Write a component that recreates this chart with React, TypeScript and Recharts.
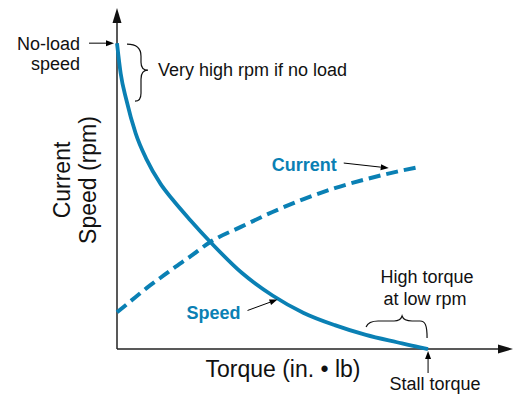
import { LineChart, Line, XAxis, YAxis, ReferenceDot, ReferenceLine } from 'recharts'

// torque as % of stall torque, speed and current as % of no-load speed scale
const torque = [0, 1.2, 3, 6, 9.5, 14, 18, 23.5, 30, 40, 50, 60, 70, 80, 90, 97, 100]
const speed = [100, 90, 81.5, 70.5, 62, 54, 48.7, 42.2, 35, 25, 17.5, 11.8, 7.8, 4.6, 2.2, 0.6, 0]
const current = [12, 13, 14.5, 17, 19.9, 23.3, 26.3, 30.2, 35, 40, 44.8, 49, 52.6, 55.5, 58, 59.5, null]

const xTitle = 'Torque (in. \u2022 lb)'
const yTitle = ['Current', 'Speed (rpm)']
const noLoadText = ['No-load', 'speed']
const highRpmText = 'Very high rpm if no load'
const highTorqueText = ['High torque', 'at low rpm']
const stallText = 'Stall torque'

const X_MAX = 127.3
const Y_MAX = 111.5

const data = torque.map((t, i) => ({ torque: t, speed: speed[i], current: current[i] }))

const BLUE = '#0a80b4'
const FONT = '"Liberation Sans", Arial, Helvetica, sans-serif'

function arrow(x1: number, y1: number, x2: number, y2: number) {
  const a = Math.atan2(y2 - y1, x2 - x1)
  const L = 8
  const W = 3
  const bx = x2 - L * Math.cos(a)
  const by = y2 - L * Math.sin(a)
  const pts = `${x2},${y2} ${bx - W * Math.sin(a)},${by + W * Math.cos(a)} ${bx + W * Math.sin(a)},${by - W * Math.cos(a)}`
  return (
    <g>
      <line x1={x1} y1={y1} x2={bx} y2={by} stroke="#000" strokeWidth={1} />
      <polygon points={pts} fill="#000" />
    </g>
  )
}

const txt = { fontFamily: FONT, fontSize: 18, fill: '#111' }

export default function App() {
  return (
    <div style={{ position: 'absolute', left: 0, top: 0, background: '#fff' }}>
      <LineChart width={520} height={395} data={data} margin={{ top: 8, right: 7, left: 117, bottom: 46 }}>
        <XAxis dataKey="torque" type="number" domain={[0, X_MAX]} hide />
        <YAxis type="number" domain={[0, Y_MAX]} hide />

        {/* axes */}
        <ReferenceLine segment={[{ x: 0, y: 0 }, { x: X_MAX - 3, y: 0 }]} stroke="#222" strokeWidth={1.5} />
        <ReferenceLine segment={[{ x: 0, y: 0 }, { x: 0, y: Y_MAX - 3 }]} stroke="#222" strokeWidth={1.5} />

        <Line type="monotone" dataKey="current" stroke={BLUE} strokeWidth={4} strokeDasharray="12 6" dot={false} isAnimationActive={false} />
        <Line type="monotone" dataKey="speed" stroke={BLUE} strokeWidth={3.8} dot={false} isAnimationActive={false} />

        {/* axis arrowheads */}
        <ReferenceDot
          x={X_MAX}
          y={0}
          shape={(p: any) => <polygon points={`${p.cx},${p.cy} ${p.cx - 15},${p.cy - 4.5} ${p.cx - 15},${p.cy + 4.5}`} fill="#111" />}
        />
        <ReferenceDot
          x={0}
          y={Y_MAX}
          shape={(p: any) => <polygon points={`${p.cx},${p.cy} ${p.cx - 4.5},${p.cy + 15} ${p.cx + 4.5},${p.cy + 15}`} fill="#111" />}
        />

        {/* axis titles */}
        <ReferenceDot
          x={0}
          y={0}
          shape={(p: any) => {
            const cy = p.cy - 169
            return (
              <g>
                <text x={p.cx + 166} y={p.cy + 28} textAnchor="middle" style={{ ...txt, fontSize: 23 }}>{xTitle}</text>
                <text x={70} y={cy} transform={`rotate(-90, 70, ${cy})`} textAnchor="middle" style={{ ...txt, fontSize: 23 }}>
                  {yTitle[0]}
                </text>
                <text x={96} y={cy} transform={`rotate(-90, 96, ${cy})`} textAnchor="middle" style={{ ...txt, fontSize: 23 }}>
                  {yTitle[1]}
                </text>
              </g>
            )
          }}
        />

        {/* no-load speed */}
        <ReferenceDot
          x={0}
          y={speed[0]}
          shape={(p: any) => (
            <g>
              <text x={p.cx - 37} y={p.cy + 7} textAnchor="end" style={txt}>{noLoadText[0]}</text>
              <text x={p.cx - 37} y={p.cy + 27} textAnchor="end" style={txt}>{noLoadText[1]}</text>
              {arrow(p.cx - 28, p.cy, p.cx - 3, p.cy)}
              <path
                d={`M${p.cx + 10},${p.cy + 1} C${p.cx + 20},${p.cy + 1} ${p.cx + 24},${p.cy + 6} ${p.cx + 24},${p.cy + 13} L${p.cx + 24},${p.cy + 19} C${p.cx + 24},${p.cy + 24} ${p.cx + 26},${p.cy + 27} ${p.cx + 31},${p.cy + 27} C${p.cx + 26},${p.cy + 27} ${p.cx + 24},${p.cy + 30} ${p.cx + 24},${p.cy + 36} L${p.cx + 24},${p.cy + 50} C${p.cx + 24},${p.cy + 55} ${p.cx + 22},${p.cy + 58} ${p.cx + 18},${p.cy + 58}`}
                fill="none"
                stroke="#111"
                strokeWidth={1.2}
              />
              <text x={p.cx + 41} y={p.cy + 33} style={txt}>{highRpmText}</text>
            </g>
          )}
        />

        {/* current label */}
        <ReferenceDot
          x={97}
          y={59.5}
          shape={(p: any) => (
            <g>
              <text x={p.cx - 82} y={p.cy + 4} textAnchor="end" style={{ ...txt, fill: BLUE, fontWeight: 700 }}>Current</text>
              {arrow(p.cx - 75, p.cy - 4, p.cx - 30, p.cy + 1)}
            </g>
          )}
        />

        {/* speed label */}
        <ReferenceDot
          x={50}
          y={17.5}
          shape={(p: any) => (
            <g>
              <text x={p.cx - 32} y={p.cy + 24} textAnchor="end" style={{ ...txt, fill: BLUE, fontWeight: 700 }}>Speed</text>
              {arrow(p.cx - 25, p.cy + 15, p.cx + 5, p.cy + 4)}
            </g>
          )}
        />

        {/* stall torque */}
        <ReferenceDot
          x={100}
          y={0}
          shape={(p: any) => (
            <g>
              <text x={p.cx - 1} y={p.cy - 66} textAnchor="middle" style={txt}>{highTorqueText[0]}</text>
              <text x={p.cx - 3} y={p.cy - 44} textAnchor="middle" style={txt}>{highTorqueText[1]}</text>
              <path
                d={`M${p.cx - 62},${p.cy - 22} C${p.cx - 60},${p.cy - 27} ${p.cx - 56},${p.cy - 28} ${p.cx - 50},${p.cy - 28} L${p.cx - 34},${p.cy - 28} C${p.cx - 29},${p.cy - 28} ${p.cx - 27},${p.cy - 30} ${p.cx - 26},${p.cy - 33} C${p.cx - 25},${p.cy - 30} ${p.cx - 22},${p.cy - 28} ${p.cx - 16},${p.cy - 28} L${p.cx - 8},${p.cy - 28} C${p.cx - 3},${p.cy - 28} ${p.cx - 1},${p.cy - 24} ${p.cx - 1},${p.cy - 11}`}
                fill="none"
                stroke="#111"
                strokeWidth={1.2}
              />
              {arrow(p.cx, p.cy + 24, p.cx, p.cy + 2)}
              <text x={p.cx + 7} y={p.cy + 41} textAnchor="middle" style={txt}>{stallText}</text>
            </g>
          )}
        />
      </LineChart>
    </div>
  )
}
